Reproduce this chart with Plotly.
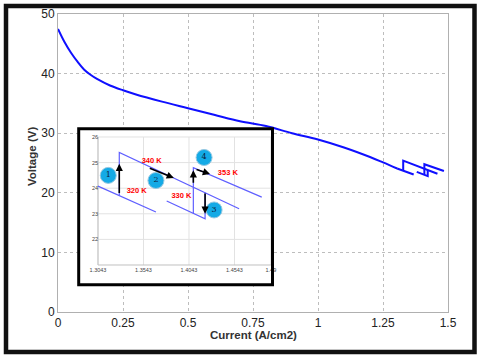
import plotly.graph_objects as go

# main polarisation curve (current density vs voltage)
curve_i = [0, 0.025, 0.05, 0.075, 0.1, 0.125, 0.15, 0.2, 0.25, 0.3, 0.4, 0.5, 0.6,
           0.7, 0.8, 0.9, 1.0, 1.1, 1.2, 1.25, 1.3043]
curve_v = [47.5, 45.3, 43.5, 42.0, 40.7, 39.8, 39.1, 38.0, 37.2, 36.5, 35.3, 34.2, 33.1,
           32.0, 31.2, 30.0, 28.95, 27.6, 26.0, 25.1, 24.08]

# 320 K line continuing past the first step, then the step segments (340 K, 330 K, 353 K)
seg320_i = [1.3043, 1.3277, 1.368]
seg320_v = [24.08, 23.71, 23.07]
seg340_i = [1.3277, 1.3277, 1.4594]
seg340_v = [23.71, 25.4, 23.2]
seg330_i = [1.3798, 1.422, 1.422]
seg330_v = [23.5, 22.8, 23.83]
seg353_i = [1.4091, 1.4091, 1.4843]
seg353_v = [23.01, 24.8, 23.65]

# inset axes
inset_xticks = [1.3043, 1.3543, 1.4043, 1.4543, 1.4943]
inset_xlabels = ["1.3043", "1.3543", "1.4043", "1.4543", "1.49"]
inset_yticks = [22, 23, 24, 25, 26]

# temperature labels and step markers in the inset
temp_labels = ["340 K", "320 K", "330 K", "353 K"]
temp_x = [1.3633, 1.3468, 1.396, 1.447]
temp_y = [25.05, 23.9, 23.7, 24.6]
step_labels = ["1", "2", "3", "4"]
step_x = [1.3156, 1.368, 1.4319, 1.4209]
step_y = [24.5, 24.3, 23.15, 25.2]
# arrows: (tail x, tail y, head x, head y)
arrows = [(1.3277, 23.75, 1.3277, 24.95),
          (1.3596, 24.8, 1.3877, 24.4),
          (1.411, 24.75, 1.4274, 24.55),
          (1.422, 23.85, 1.422, 23.0),
          (1.4091, 24.15, 1.4091, 24.7)]

steps_i = seg320_i + [None] + seg340_i + [None] + seg330_i + [None] + seg353_i
steps_v = seg320_v + [None] + seg340_v + [None] + seg330_v + [None] + seg353_v

main_blue = "rgb(15,15,255)"
fig = go.Figure()
fig.add_trace(go.Scatter(x=curve_i, y=curve_v, mode="lines",
                         line=dict(color=main_blue, width=2, shape="spline", smoothing=1.0),
                         hoverinfo="skip", showlegend=False))
fig.add_trace(go.Scatter(x=steps_i, y=steps_v, mode="lines",
                         line=dict(color=main_blue, width=2),
                         hoverinfo="skip", showlegend=False))
fig.add_trace(go.Scatter(x=steps_i, y=steps_v, mode="lines", xaxis="x2", yaxis="y2",
                         line=dict(color="rgb(95,95,255)", width=1.2),
                         hoverinfo="skip", showlegend=False))
fig.add_trace(go.Scatter(x=step_x, y=step_y, mode="markers+text", xaxis="x2", yaxis="y2",
                         text=step_labels, textposition="middle center",
                         marker=dict(size=16, color="rgb(20,170,230)",
                                     line=dict(color="rgb(150,200,225)", width=1)),
                         textfont=dict(family="DejaVu Serif", size=8, color="#0d2340"),
                         hoverinfo="skip", showlegend=False))
fig.add_trace(go.Scatter(x=temp_x, y=temp_y, mode="text", xaxis="x2", yaxis="y2",
                         text=["<b>%s</b>" % t for t in temp_labels],
                         textfont=dict(family="Arial", size=7.5, color="red"),
                         hoverinfo="skip", showlegend=False))

for tx, ty, hx, hy in arrows:
    fig.add_annotation(x=hx, y=hy, ax=tx, ay=ty, xref="x2", yref="y2",
                       axref="x2", ayref="y2", text="", showarrow=True,
                       arrowhead=2, arrowsize=0.9, arrowwidth=1.6, arrowcolor="black")

# pixel helpers for paper coordinates (plot area 58..448 x 14..312)
def px(x):
    return (x - 58) / 390.0

def py(y):
    return (312 - y) / 298.0

shapes = []
# white card behind the inset, drawn in the inset subplot so it hides the main grid
shapes.append(dict(type="rect", xref="x2", yref="y2", x0=1.2831, x1=1.4961,
                   y0=20.23, y1=26.324, fillcolor="white", line=dict(width=0),
                   layer="below"))
for t in inset_xticks:
    shapes.append(dict(type="line", xref="x2", yref="y2", x0=t, x1=t, y0=21, y1=26,
                       line=dict(color="#e2e2e2", width=1), layer="between"))
for t in inset_yticks:
    shapes.append(dict(type="line", xref="x2", yref="y2", x0=1.3043, x1=1.4943, y0=t, y1=t,
                       line=dict(color="#e2e2e2", width=1), layer="between"))
shapes.append(dict(type="line", xref="x2", yref="y2", x0=1.3043, x1=1.3043, y0=21, y1=26,
                   line=dict(color="#c0c0c0", width=1), layer="between"))
shapes.append(dict(type="line", xref="x2", yref="y2", x0=1.3043, x1=1.4943, y0=21, y1=21,
                   line=dict(color="#c0c0c0", width=1), layer="between"))
# inset border
shapes.append(dict(type="rect", xref="paper", yref="paper", x0=px(78.7), x1=px(272.5),
                   y0=py(284.7), y1=py(128.7), line=dict(color="black", width=3),
                   layer="above"))
# outer frame
shapes.append(dict(type="rect", xref="paper", yref="paper", x0=px(6), x1=px(474.5),
                   y0=py(352), y1=py(6), line=dict(color="#111111", width=4.5),
                   layer="above"))

fig.update_layout(
    width=480, height=359,
    margin=dict(l=58, r=32, t=14, b=47, autoexpand=False),
    paper_bgcolor="white", plot_bgcolor="white",
    font=dict(family="Arial", size=12, color="#222222"),
    shapes=shapes,
    xaxis=dict(range=[0, 1.5], tickvals=[0, 0.25, 0.5, 0.75, 1, 1.25, 1.5],
               ticktext=["0", "0.25", "0.5", "0.75", "1", "1.25", "1.5"],
               showgrid=True, gridcolor="#bdbdbd", griddash="dot", gridwidth=1,
               showline=True, linecolor="#b0b0b0", linewidth=1, mirror=True,
               zeroline=False, ticks="", tickfont=dict(size=12), automargin=False),
    yaxis=dict(range=[0, 50], tickvals=[0, 10, 20, 30, 40, 50],
               showgrid=True, gridcolor="#bdbdbd", griddash="dot", gridwidth=1,
               showline=True, linecolor="#b0b0b0", linewidth=1, mirror=True,
               zeroline=False, ticks="", tickfont=dict(size=12), automargin=False),
    xaxis2=dict(domain=[px(78.7), px(272.5)], range=[1.2831, 1.4961], anchor="free",
                position=py(265), tickvals=inset_xticks, ticktext=inset_xlabels,
                showgrid=False, showline=False, zeroline=False, ticks="",
                tickfont=dict(size=5.5, color="#444444"), automargin=False),
    yaxis2=dict(domain=[py(284.7), py(128.7)], range=[20.23, 26.324], anchor="free",
                position=px(98), tickvals=inset_yticks,
                showgrid=False, showline=False, zeroline=False, ticks="",
                tickfont=dict(size=5.5, color="#444444"), automargin=False),
)

fig.add_annotation(text="<b>Current (A/cm2)</b>", xref="paper", yref="paper",
                   x=0.5, y=py(335), xanchor="center", yanchor="middle", showarrow=False,
                   font=dict(size=11.5, color="#333333"))
fig.add_annotation(text="<b>Voltage (V)</b>", xref="paper", yref="paper",
                   x=px(32), y=py(157), xanchor="center", yanchor="middle",
                   textangle=-90, showarrow=False, font=dict(size=11.5, color="#333333"))

# the page body has a default 8px margin; drop it so the figure sits at the corner
fig.write_html("out.html", config={"displayModeBar": False},
               post_script="document.body.style.margin='0';")
